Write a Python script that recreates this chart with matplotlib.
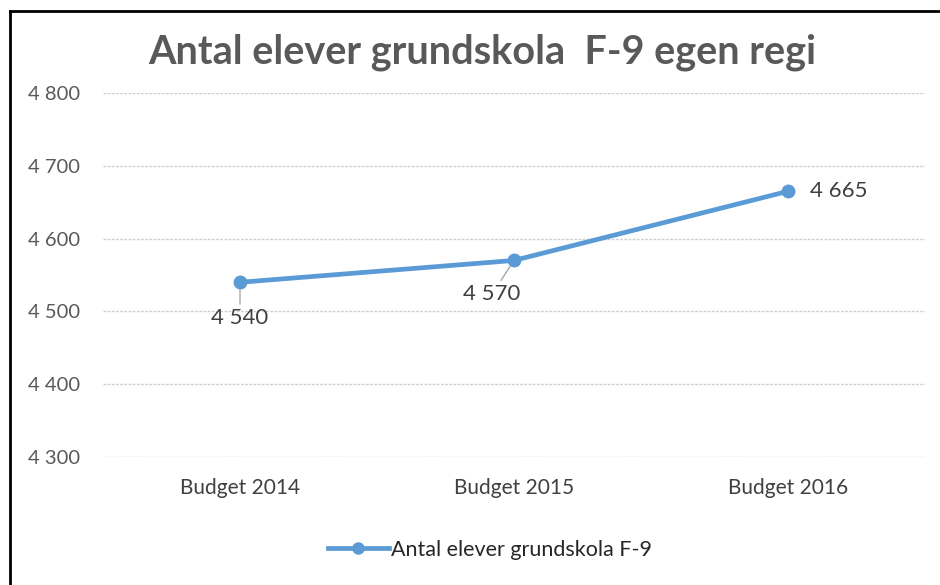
import matplotlib
matplotlib.use("Agg")
import matplotlib.pyplot as plt
from matplotlib.lines import Line2D

categories = ["Budget 2014", "Budget 2015", "Budget 2016"]
values = [4540, 4570, 4665]
yticks = [4300, 4400, 4500, 4600, 4700, 4800]
series_name = "Antal elever grundskola F-9"
title = "Antal elever grundskola  F-9 egen regi"

def fmt(v):
    return f"{v:,}".replace(",", " ")

plt.rcParams['font.family'] = ['Lato', 'DejaVu Sans']
fig = plt.figure(figsize=(9.4, 5.85), dpi=100)
ax = fig.add_axes([103/940, 1-457/585, (925-103)/940, (457-93)/585])

color = "#5B9BD5"
x = list(range(len(categories)))
ax.plot(x, values, color=color, lw=3.4, marker="o", ms=9, label=series_name,
        solid_capstyle="round", zorder=3)

ax.set_xlim(-0.5, 2.5)
ax.set_ylim(yticks[0], yticks[-1])
ax.set_yticks(yticks)
ax.set_yticklabels([fmt(v) for v in yticks])
ax.set_xticks(x)
ax.set_xticklabels(categories)
ax.tick_params(axis='y', length=0, pad=16.5, labelsize=14.5, labelcolor="#595959")
ax.tick_params(axis='x', length=0, pad=15, labelsize=15, labelcolor="#404040")
for s in ax.spines.values():
    s.set_visible(False)
ax.yaxis.grid(True, color="#D0D0D0", lw=1, ls=(0, (2, 1)))
ax.set_axisbelow(True)

# data labels
ax.annotate(fmt(values[0]), xy=(0, values[0]), xytext=(0, -26), textcoords="offset points",
            ha="center", va="center", fontsize=16, color="#404040",
            arrowprops=dict(arrowstyle="-", color="#A0A0A0", lw=0.9, shrinkA=1, shrinkB=5))
ax.annotate(fmt(values[1]), xy=(1, values[1]), xytext=(-16, -24.5), textcoords="offset points",
            ha="center", va="center", fontsize=16, color="#404040",
            arrowprops=dict(arrowstyle="-", color="#A0A0A0", lw=0.9, shrinkA=1, shrinkB=5))
ax.annotate(fmt(values[2]), xy=(2, values[2]), xytext=(16, 0), textcoords="offset points",
            ha="left", va="center", fontsize=16, color="#404040")

fig.text(482/940, 1-52/585, title, ha="center", va="center", fontsize=28.5,
         fontweight="bold", color="#595959")

leg = fig.legend(handles=[Line2D([], [], color=color, lw=3.4, marker="o", ms=8)],
                 labels=[series_name], loc="center", bbox_to_anchor=(490/940, 1-550/585),
                 frameon=False, fontsize=15.5, handlelength=2.8, handletextpad=0.1)
for t in leg.get_texts():
    t.set_color("#262626")

# outer frame (top and left only)
fig.add_artist(Line2D([9.5/940, 1], [1-11/585, 1-11/585], transform=fig.transFigure, color="black", lw=2))
fig.add_artist(Line2D([9.5/940, 9.5/940], [0, 1-11/585], transform=fig.transFigure, color="black", lw=2))

fig.savefig("out.png", dpi=100)
